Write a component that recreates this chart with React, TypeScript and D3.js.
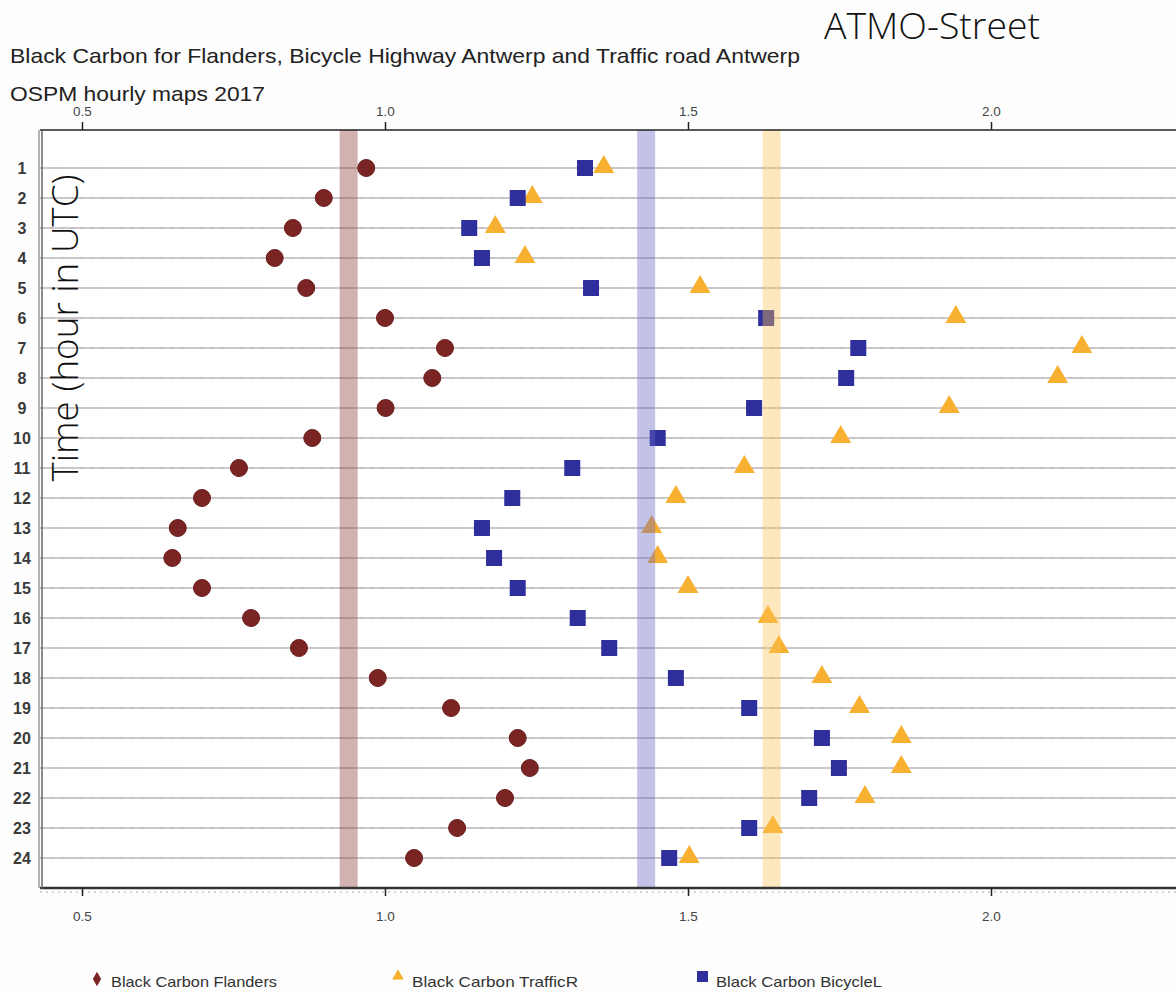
import React, { useRef, useEffect } from 'react';
import * as d3 from 'd3';

// hours 1..24
const hours = d3.range(1, 25);

// values
const flanders = [0.969, 0.899, 0.848, 0.818, 0.870, 1.000, 1.099, 1.078, 1.001, 0.880, 0.759, 0.698,
  0.658, 0.649, 0.698, 0.779, 0.858, 0.988, 1.109, 1.219, 1.239, 1.198, 1.119, 1.048];
const bicycleL = [1.330, 1.219, 1.139, 1.160, 1.340, 1.629, 1.781, 1.761, 1.609, 1.450, 1.309, 1.210,
  1.160, 1.180, 1.219, 1.318, 1.370, 1.480, 1.601, 1.721, 1.749, 1.700, 1.601, 1.469];
const trafficR = [1.361, 1.243, 1.182, 1.231, 1.520, 1.942, 2.150, 2.110, 1.931, 1.752, 1.593, 1.480,
  1.440, 1.450, 1.500, 1.632, 1.650, 1.721, 1.783, 1.852, 1.852, 1.792, 1.640, 1.502];

// yearly means (vertical bands)
const means = [
  { name: 'flanders', value: 0.94, color: '#8e3c3c' },
  { name: 'bicycleL', value: 1.431, color: '#6a6ac4' },
  { name: 'trafficR', value: 1.638, color: '#fbc35a' },
];

const xTicks = [0.5, 1.0, 1.5, 2.0];

const legendItems = [
  { label: 'Black Carbon Flanders', shape: 'diamond', color: '#7b2424' },
  { label: 'Black Carbon TrafficR', shape: 'triangle', color: '#f8b030' },
  { label: 'Black Carbon BicycleL', shape: 'square', color: '#2e2e9c' },
];

const W = 1176;
const H = 993;

const App = () => {
  const svgRef = useRef<SVGSVGElement>(null);

  useEffect(() => {
    const svg = d3.select(svgRef.current);
    svg.selectAll('*').remove();

    const left = 40;
    const top = 130;
    const bottom = 888;

    const x = d3.scaleLinear().domain([0.5, 2.0]).range([82, 991]);
    const y = d3.scaleLinear().domain([1, 24]).range([168, 858]);

    svg.append('rect').attr('width', W).attr('height', H).attr('fill', '#fdfdfd');

    // titles
    svg.append('text')
      .attr('x', 10).attr('y', 63)
      .attr('font-family', 'Liberation Sans, Arial, sans-serif')
      .attr('font-size', 21)
      .attr('textLength', 790)
      .attr('lengthAdjust', 'spacingAndGlyphs')
      .attr('fill', '#222')
      .text('Black Carbon for Flanders, Bicycle Highway Antwerp and Traffic road Antwerp');
    svg.append('text')
      .attr('x', 10).attr('y', 101)
      .attr('font-family', 'Liberation Sans, Arial, sans-serif')
      .attr('font-size', 21)
      .attr('textLength', 255)
      .attr('lengthAdjust', 'spacingAndGlyphs')
      .attr('fill', '#222')
      .text('OSPM hourly maps 2017');
    svg.append('text')
      .attr('x', 824).attr('y', 39)
      .attr('font-family', 'Open Sans, sans-serif')
      .attr('font-weight', 300)
      .attr('font-size', 36)
      .attr('textLength', 216)
      .attr('lengthAdjust', 'spacingAndGlyphs')
      .attr('fill', '#111')
      .text('ATMO-Street');

    // plot background
    svg.append('rect')
      .attr('x', left).attr('y', top)
      .attr('width', W - left).attr('height', bottom - top)
      .attr('fill', '#fff');

    // row grid lines
    const grid = svg.append('g');
    grid.selectAll('line.g1').data(hours).join('line')
      .attr('x1', left).attr('x2', W)
      .attr('y1', d => y(d)).attr('y2', d => y(d))
      .attr('stroke', '#cfcaca').attr('stroke-width', 2);
    grid.selectAll('line.g2').data(hours).join('line')
      .attr('x1', left).attr('x2', W)
      .attr('y1', d => y(d)).attr('y2', d => y(d))
      .attr('stroke', '#b9b9c4').attr('stroke-width', 1)
      .attr('stroke-dasharray', '4,6');

    // markers
    const flandersColor = '#7b2424';
    const blueColor = '#2e2e9c';
    const orangeColor = '#f8b030';

    svg.append('g').selectAll('circle').data(flanders).join('circle')
      .attr('cx', d => x(d))
      .attr('cy', (d, i) => y(hours[i]))
      .attr('r', 8.5)
      .attr('fill', flandersColor)
      .attr('stroke', '#6a1c1c').attr('stroke-width', 1);

    const tri = d3.symbol().type(d3.symbolTriangle).size(190);
    svg.append('g').selectAll('path').data(trafficR).join('path')
      .attr('transform', (d, i) => `translate(${x(d)},${y(hours[i]) - 1})`)
      .attr('d', tri)
      .attr('fill', orangeColor);

    svg.append('g').selectAll('rect').data(bicycleL).join('rect')
      .attr('x', d => x(d) - 8)
      .attr('y', (d, i) => y(hours[i]) - 8)
      .attr('width', 16).attr('height', 16)
      .attr('fill', blueColor);

    // mean bands, drawn on top with transparency
    svg.append('g').selectAll('rect').data(means).join('rect')
      .attr('x', d => x(d.value) - 9)
      .attr('y', top)
      .attr('width', 18)
      .attr('height', bottom - top)
      .attr('fill', d => d.color)
      .attr('opacity', 0.4);

    // borders
    svg.append('line')
      .attr('x1', left).attr('x2', W).attr('y1', top).attr('y2', top)
      .attr('stroke', '#222').attr('stroke-width', 1.5);
    svg.append('line')
      .attr('x1', left).attr('x2', W).attr('y1', bottom).attr('y2', bottom)
      .attr('stroke', '#333').attr('stroke-width', 2.5);
    svg.append('line')
      .attr('x1', left).attr('x2', W).attr('y1', bottom + 4).attr('y2', bottom + 4)
      .attr('stroke', '#aaa').attr('stroke-width', 1).attr('stroke-dasharray', '2,4');
    svg.append('line')
      .attr('x1', 39).attr('x2', 39).attr('y1', top).attr('y2', bottom)
      .attr('stroke', '#999').attr('stroke-width', 1.5);
    svg.append('line')
      .attr('x1', 42).attr('x2', 42).attr('y1', top).attr('y2', bottom + 1)
      .attr('stroke', '#666').attr('stroke-width', 1.5);

    // x axes
    const fmt = d3.format('.1f');
    const topAxis = svg.append('g')
      .attr('transform', `translate(0,${top})`)
      .call(d3.axisTop(x).tickValues(xTicks).tickFormat(d => fmt(d as number)).tickSize(8).tickPadding(6));
    const bottomAxis = svg.append('g')
      .attr('transform', `translate(0,${bottom})`)
      .call(d3.axisBottom(x).tickValues(xTicks).tickFormat(d => fmt(d as number)).tickSize(8).tickPadding(15));
    [topAxis, bottomAxis].forEach(g => {
      g.select('.domain').remove();
      g.selectAll('line').attr('stroke', '#222').attr('stroke-width', 1.5);
      g.selectAll('text')
        .attr('font-family', 'Liberation Sans, Arial, sans-serif')
        .attr('font-size', 13.5)
        .attr('fill', '#444');
    });

    // hour labels
    svg.append('g').selectAll('text').data(hours).join('text')
      .attr('x', 22)
      .attr('y', d => y(d))
      .attr('dy', '0.36em')
      .attr('text-anchor', 'middle')
      .attr('font-family', 'Liberation Sans, Arial, sans-serif')
      .attr('font-weight', 'bold')
      .attr('font-size', 16)
      .attr('fill', '#3a3a3a')
      .text(d => d);

    // y title
    svg.append('text')
      .attr('transform', `translate(78,${328}) rotate(-90)`)
      .attr('text-anchor', 'middle')
      .attr('font-family', 'Open Sans, sans-serif')
      .attr('font-weight', 300)
      .attr('font-size', 36)
      .attr('textLength', 307)
      .attr('lengthAdjust', 'spacingAndGlyphs')
      .attr('fill', '#111')
      .text('Time (hour in UTC)');

    // legend
    const legendX = [97, 398, 702];
    const lg = svg.append('g');
    legendItems.forEach((item, i) => {
      const cx = legendX[i];
      const cy = 979;
      if (item.shape === 'diamond') {
        lg.append('path')
          .attr('transform', `translate(${cx},${cy})`)
          .attr('d', d3.symbol().type(d3.symbolDiamond).size(60)())
          .attr('fill', item.color);
      } else if (item.shape === 'triangle') {
        lg.append('path')
          .attr('transform', `translate(${cx},${cy - 3})`)
          .attr('d', d3.symbol().type(d3.symbolTriangle).size(60)())
          .attr('fill', item.color);
      } else {
        lg.append('rect')
          .attr('x', cx - 5).attr('y', cy - 8)
          .attr('width', 11).attr('height', 11)
          .attr('fill', item.color);
      }
      lg.append('text')
        .attr('x', cx + 14).attr('y', cy + 8)
        .attr('font-family', 'Liberation Sans, Arial, sans-serif')
        .attr('font-size', 15)
        .attr('textLength', 166)
        .attr('lengthAdjust', 'spacingAndGlyphs')
        .attr('fill', '#333')
        .text(item.label);
    });
  }, []);

  return (
    <svg ref={svgRef} width={W} height={H}
      style={{ position: 'absolute', left: 0, top: 0, display: 'block' }} />
  );
};

export default App;
